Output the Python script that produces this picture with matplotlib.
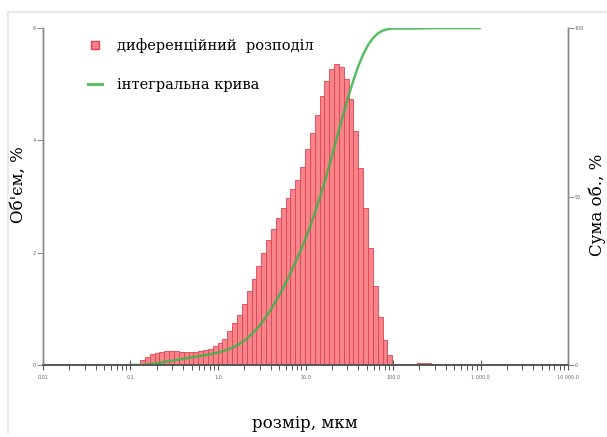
import numpy as np
import matplotlib.pyplot as plt
from matplotlib.lines import Line2D
from matplotlib.ticker import FixedLocator, NullFormatter

# laser diffraction size classes: 100 log-spaced classes, 0.01 .. 3500 um
d_min, d_max, n_classes = 0.01, 3500.0, 100
first_class = 20

# volume fraction per size class (%), starting at class `first_class`
vol_pct = [0.09, 0.15, 0.19, 0.22, 0.24, 0.25, 0.25, 0.25, 0.24, 0.24,
           0.24, 0.24, 0.25, 0.26, 0.28, 0.33,
           0.39, 0.46, 0.60, 0.74, 0.89, 1.09, 1.31, 1.53, 1.76, 1.99,
           2.22, 2.43, 2.62, 2.80, 2.98, 3.14,
           3.30, 3.52, 3.84, 4.14, 4.46, 4.79, 5.06, 5.27, 5.36, 5.30,
           5.09, 4.73, 4.17, 3.51, 2.80, 2.08, 1.40, 0.86, 0.45, 0.18,
           0.0, 0.0, 0.0, 0.0,
           0.02, 0.03, 0.04, 0.03, 0.02]

x_ticks = [0.01, 0.1, 1.0, 10.0, 100.0, 1000.0, 10000.0]
x_ticklabels = ['0.01', '0.1', '1.0', '10.0', '100.0', '1 000.0', '10 000.0']
y_ticks = [0, 2, 4, 6]
y2_ticks = [0, 50, 100]

edges = d_min * (d_max / d_min) ** (np.arange(n_classes + 1) / n_classes)
full = np.zeros(n_classes)
full[first_class:first_class + len(vol_pct)] = vol_pct
cum = np.concatenate([[0.0], np.cumsum(full)])
cum = cum / cum[-1] * 100

serif = 'DejaVu Serif'
fig = plt.figure(figsize=(6.07, 4.37), dpi=100)
ax = fig.add_axes([0.0708, 0.1648, 0.865, 0.771])
ax2 = ax.twinx()

nz = full > 0
ax.bar(edges[:-1][nz], full[nz], width=np.diff(edges)[nz], align='edge',
       color='#f5848b', edgecolor='#e5404f', linewidth=0.6, zorder=2)
ax2.plot(edges[18:91], cum[18:91], color='#3cb44b', lw=1.8, alpha=0.85)

ax.set_xscale('log')
ax.set_xlim(0.01, 10000)
ax.set_ylim(0, 6)
ax2.set_ylim(0, 100)

for a in (ax, ax2):
    a.spines['top'].set_visible(False)
    a.spines['left'].set_color('#888888')
    a.spines['right'].set_color('#888888')
    a.spines['bottom'].set_color('#555555')
    a.spines['left'].set_linewidth(1.0)
    a.spines['right'].set_linewidth(1.0)
    a.spines['bottom'].set_linewidth(1.2)
ax2.set_zorder(ax.get_zorder() + 1)

ax.xaxis.set_major_locator(FixedLocator(x_ticks))
ax.set_xticklabels(x_ticklabels)
minor = [m * 10.0 ** e for e in range(-2, 4) for m in range(2, 10)]
ax.xaxis.set_minor_locator(FixedLocator(minor))
ax.xaxis.set_minor_formatter(NullFormatter())
ax.tick_params(axis='x', which='major', direction='inout', length=7,
               width=0.8, color='#555555', labelsize=3.5, labelcolor='#666666', pad=4)
ax.tick_params(axis='x', which='minor', direction='out', length=3.5,
               width=0.7, color='#555555')

ax.set_yticks(y_ticks)
ax.tick_params(axis='y', direction='out', length=4, width=0.7, color='#888888',
               labelsize=3.5, labelcolor='#666666', pad=1)
ax2.set_yticks(y2_ticks)
ax2.tick_params(axis='y', direction='out', length=4, width=0.7, color='#888888',
                labelsize=3.5, labelcolor='#666666', pad=1)

# axis titles
fig.text(18 / 607, 1 - 185 / 437, "Об'єм, %", family=serif, fontsize=12,
         rotation=90, ha='center', va='center')
fig.text(597 / 607, 1 - 205 / 437, 'Сума об., %', family=serif, fontsize=12,
         rotation=90, ha='center', va='center')
fig.text(305 / 607, 1 - 424 / 437, 'розмір, мкм', family=serif, fontsize=12,
         ha='center', va='center')

handles = [Line2D([], [], marker='s', ls='none', color='#f5848b',
                  markeredgecolor='#e5404f', markersize=6),
           Line2D([], [], color='#3cb44b', lw=2.2, alpha=0.85)]
ax.legend(handles, ['диференційний  розподіл', 'інтегральна крива'],
          loc='upper left', bbox_to_anchor=(0.06, 1.01), frameon=False,
          prop={'family': serif, 'size': 10.5}, handlelength=1.0,
          labelspacing=1.75, handletextpad=1.0)

# thin frame around the page
fig.add_artist(Line2D([0.013, 1.0], [0.973, 0.973], color='#e4e4e4', lw=1.2))
fig.add_artist(Line2D([0.013, 0.013], [0.973, 0.01], color='#e4e4e4', lw=1.2))

fig.savefig('out.png', dpi=100)
